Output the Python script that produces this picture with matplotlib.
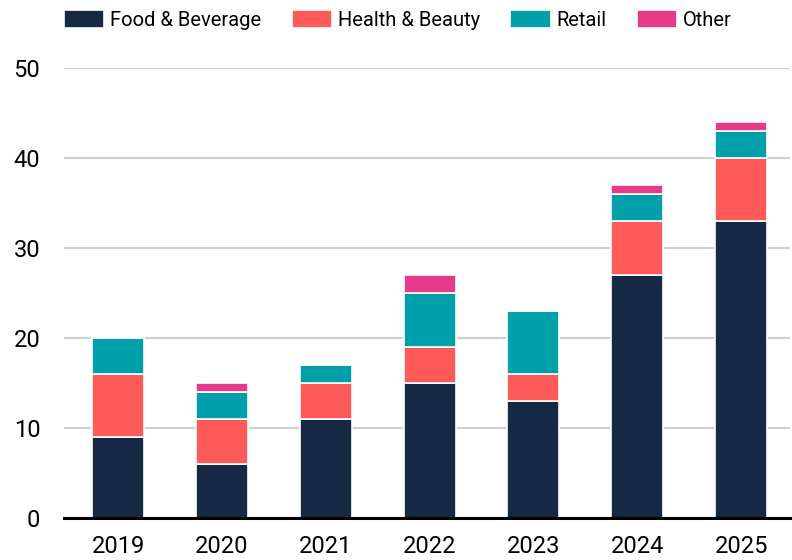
import matplotlib.pyplot as plt
import numpy as np

plt.rcParams['font.family'] = ['Roboto', 'DejaVu Sans']

years = ['2019', '2020', '2021', '2022', '2023', '2024', '2025']
food_bev = [9, 6, 11, 15, 13, 27, 33]
health_beauty = [7, 5, 4, 4, 3, 6, 7]
retail = [4, 3, 2, 6, 7, 3, 3]
other = [0, 1, 0, 2, 0, 1, 1]

series = [
    ('Food & Beverage', food_bev, '#152945'),
    ('Health & Beauty', health_beauty, '#FF5A5A'),
    ('Retail', retail, '#00A0AA'),
    ('Other', other, '#E63A8A'),
]

fig = plt.figure(figsize=(7.92, 5.6), dpi=100)
ax = fig.add_axes([64 / 792, 42 / 560, 726 / 792, 450 / 560])

x = np.arange(len(years))
bottom = np.zeros(len(years))
for name, vals, color in series:
    vals = np.array(vals, dtype=float)
    ax.bar(x, vals, width=0.5, bottom=bottom, color=color, label=name,
           edgecolor='white', linewidth=1.2, zorder=3)
    bottom += vals

ax.set_ylim(0, 50)
ax.set_xlim(-0.52, 6.47)
ax.set_yticks([0, 10, 20, 30, 40, 50])
ax.set_xticks(x)
ax.set_xticklabels(years)
ax.grid(axis='y', color='#d0d0d0', linewidth=1.5, zorder=0)
for s in ['top', 'right', 'left']:
    ax.spines[s].set_visible(False)
ax.spines['bottom'].set_linewidth(2.2)
ax.spines['bottom'].set_color('black')
ax.spines['bottom'].set_zorder(4)
ax.tick_params(axis='y', length=0, pad=17, labelsize=17)
ax.tick_params(axis='x', length=0, pad=12, labelsize=17)

ax.legend(loc='center left', bbox_to_anchor=(0.0, 1.107), ncol=4, frameon=False,
          fontsize=14.5, handlelength=2.0, handleheight=1.05, columnspacing=1.5,
          handletextpad=0.3, borderaxespad=0, borderpad=0)

fig.savefig('out.png', dpi=100)
